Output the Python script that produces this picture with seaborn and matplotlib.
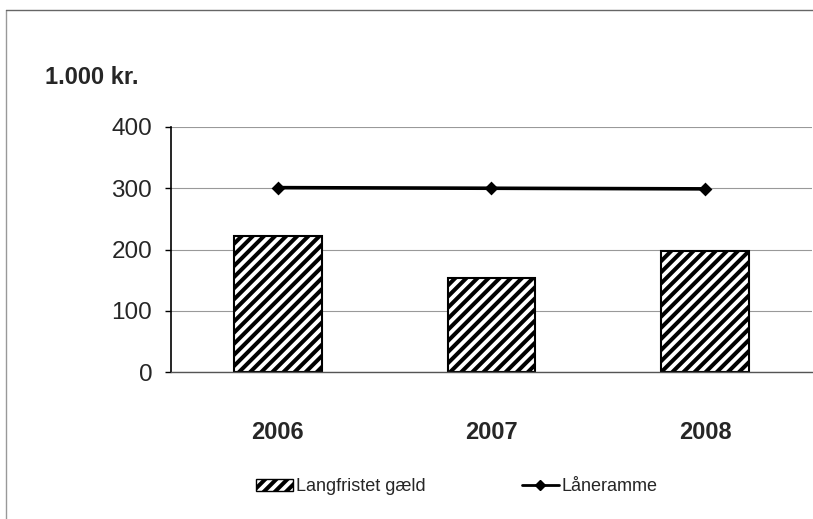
import matplotlib
matplotlib.use("Agg")
import matplotlib.pyplot as plt
import seaborn as sns
import pandas as pd
from matplotlib.patches import Patch
from matplotlib.lines import Line2D

# Data
years = ["2006", "2007", "2008"]
gaeld = [222, 153, 197]        # Langfristet gæld (1.000 kr.)
laaneramme = [301, 300, 299]   # Låneramme (1.000 kr.)

df = pd.DataFrame({"year": years, "gaeld": gaeld, "ramme": laaneramme})

sns.set_theme(style="white")
plt.rcParams["font.family"] = ["Liberation Sans", "DejaVu Sans"]
plt.rcParams["hatch.linewidth"] = 2.9
plt.rcParams["hatch.color"] = "black"

fig = plt.figure(figsize=(8.13, 5.19), dpi=100)
ax = fig.add_axes([0.2103, 0.2832, 0.7885, 0.4721])

sns.barplot(
    data=df, x="year", y="gaeld", ax=ax, color="white",
    edgecolor="black", linewidth=1.5, width=0.41, hatch="///",
    saturation=1,
)
sns.pointplot(
    data=df, x="year", y="ramme", ax=ax, color="black",
    markers="D", linestyles="-", linewidth=2.6, markersize=5.5,
    errorbar=None,
)

ax.set_ylim(0, 400)
ax.set_xlim(-0.5, 2.5)
ax.set_yticks([0, 100, 200, 300, 400])
ax.yaxis.grid(True, color="#999999", linewidth=0.8)
ax.set_axisbelow(True)
ax.set_xlabel("")
ax.set_ylabel("")

for side in ["top", "right"]:
    ax.spines[side].set_visible(False)
ax.spines["left"].set_color("black")
ax.spines["left"].set_linewidth(1.2)
ax.spines["bottom"].set_color("#555555")
ax.spines["bottom"].set_linewidth(1.0)

ax.tick_params(axis="y", which="major", direction="out", length=4.5,
               width=1, color="black", pad=9, labelsize=17.5, left=True)
ax.tick_params(axis="x", length=0, pad=35, labelsize=17)
for lab in ax.get_xticklabels():
    lab.set_fontweight("bold")

fig.text(0.055, 0.85, "1.000 kr.", fontsize=17, fontweight="bold",
         va="center", ha="left")

# outer chart frame
fig.add_artist(Line2D([0.0075, 0.0075], [0.0, 0.981], color="#999999",
                      linewidth=1.0, transform=fig.transFigure))
fig.add_artist(Line2D([0.0075, 1.0], [0.981, 0.981], color="#666666",
                      linewidth=1.0, transform=fig.transFigure))

handles = [
    Patch(facecolor="white", edgecolor="black", hatch="///", linewidth=1),
    Line2D([0], [0], color="black", linewidth=2, marker="D", markersize=5),
]
fig.legend(handles, ["Langfristet gæld", "Låneramme"], loc="center",
           bbox_to_anchor=(0.562, 0.062), ncol=2, frameon=False, fontsize=13,
           handlelength=2.05, handletextpad=0.17, columnspacing=5.3,
           handleheight=0.6)

fig.savefig("out.png", dpi=100)
